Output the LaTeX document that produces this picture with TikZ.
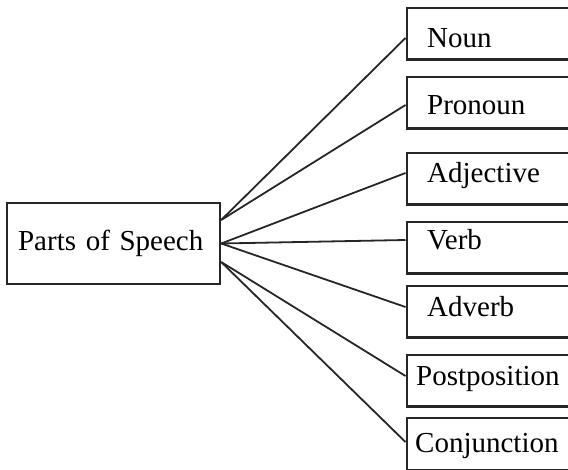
\documentclass[tikz,border=0pt]{standalone}
\usepackage{fontspec}
\setmainfont{Liberation Serif}
\usepackage{tikz}

\begin{document}
\begin{tikzpicture}[x=1pt, y=-1pt, every node/.style={font=\fontsize{29}{34}\selectfont}]
	\tikzset{
		bigbox/.style={draw=black!85, line width=2.2pt, anchor=west, minimum height=81pt,
			inner xsep=11pt, text width=191pt, align=left},
		wordbox/.style={draw=black!85, line width=2.2pt, anchor=north west, minimum height=51.5pt,
			minimum width=220pt},
		word/.style={anchor=base west, inner sep=0pt, text height=20pt, text depth=0pt},
		link/.style={draw=black!85, line width=1.8pt}
	}
	\clip (0,0) rectangle (568,470);
	\node[bigbox] (speech) at (6,243.5) {Parts of Speech};
	\coordinate (srcup)  at ([yshift=23.5pt]speech.east);
	\coordinate (srcmid) at (speech.east);
	\coordinate (srclow) at ([yshift=-18.5pt]speech.east);
	% the word classes on the right
	\foreach \nm/\txt/\top/\base/\tx in {
		noun/Noun/7/48/427,
		pronoun/Pronoun/76/115/427,
		adjective/Adjective/152/183/427,
		verb/Verb/221/250/427,
		adverb/Adverb/285/317/427,
		postposition/Postposition/354/386/416,
		conjunction/Conjunction/417/452/415}
	{
		\node[wordbox] (b-\nm) at (405.5,\top) {};
		\node[word] (\nm) at (\tx,\base) {\txt};
	}
	\foreach \from/\to in {
		srcup/noun, srcup/pronoun,
		srcmid/adjective, srcmid/verb, srcmid/adverb,
		srclow/postposition, srclow/conjunction}
	\draw[link] (\from) -- (b-\to.west |- \to.west);
\end{tikzpicture}
\end{document}
